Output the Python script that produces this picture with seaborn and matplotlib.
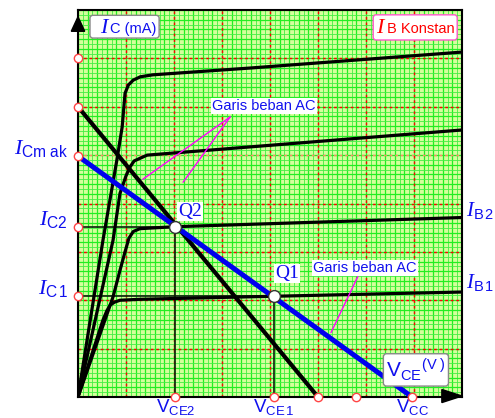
import numpy as np
import matplotlib
matplotlib.use("Agg")
import matplotlib.pyplot as plt
import seaborn as sns
from matplotlib.patches import FancyBboxPatch, Polygon

# characteristic curves (x = VCE grid units, y = IC grid units)
ib4_x = [0, 0.52, 0.81, 0.92, 0.98, 1.05, 1.15, 1.30, 1.56, 3.58, 8.0]
ib4_y = [0, 3.24, 4.90, 5.58, 6.28, 6.45, 6.55, 6.62, 6.66, 6.80, 7.13]
ib3_x = [0, 0.73, 0.875, 1.0, 1.08, 1.17, 1.44, 8.0]
ib3_y = [0, 3.24, 4.21, 4.57, 4.75, 4.88, 5.00, 5.52]
ib2_x = [0, 0.73, 0.875, 0.98, 1.06, 1.15, 1.29, 2.02, 8.0]
ib2_y = [0, 2.07, 2.62, 3.00, 3.28, 3.42, 3.48, 3.52, 3.71]
ib1_x = [0, 0.52, 0.60, 0.67, 0.76, 0.875, 1.29, 8.0]
ib1_y = [0, 1.59, 1.78, 1.90, 1.96, 2.00, 2.02, 2.17]

# load lines
dc_x = [0, 5.0]
dc_y = [6.0, 0]
ac_x = [0, 6.96]
ac_y = [4.98, 0]

# operating points
q_x = [2.02, 4.08]
q_y = [3.52, 2.08]
q_names = ["Q2", "Q1"]

# marked points on axes
y_marks = [7.0, 6.0, 4.98, 3.52, 2.08]
x_marks = [2.02, 4.08, 5.0, 5.8, 6.96]

sns.set_style("white")
plt.rcParams["font.family"] = ["Liberation Sans", "DejaVu Sans"]
plt.rcParams["mathtext.fontset"] = "custom"
plt.rcParams["mathtext.it"] = "Liberation Serif:italic"
plt.rcParams["mathtext.rm"] = "Liberation Sans"
plt.rcParams["mathtext.sf"] = "Liberation Sans"

fig = plt.figure(figsize=(4.95, 4.18), dpi=100)
ax = fig.add_axes([78 / 495, 21 / 418, 384 / 495, 387 / 418])
ax.set_facecolor("#d4ff9c")
ax.set_xlim(0, 8)
ax.set_ylim(0, 8)

# green millimetre grid
ax.set_xticks(np.arange(0, 8.01, 0.2), minor=True)
ax.set_yticks(np.arange(0, 8.01, 0.2), minor=True)
ax.grid(which="minor", color="#22ee22", lw=0.9, zorder=0)
ax.set_xticks(np.arange(0.1, 8, 0.2), minor=False)
ax.set_yticks(np.arange(0.1, 8, 0.2), minor=False)
ax.grid(which="major", color="#44ee44", lw=0.6, zorder=0)
ax.tick_params(which="both", length=0, labelbottom=False, labelleft=False)
ax.set_axisbelow(True)

for v in range(1, 8):
    ax.axvline(v, color="red", lw=1, ls=(0, (2, 2)), zorder=1)
    ax.axhline(v, color="#ff8866" if v == 5 else "red", lw=1, ls=(0, (2, 2)), zorder=1)

for s in ax.spines.values():
    s.set_color("black")
    s.set_linewidth(1.5)

# thin projection lines to the axes
for qx, qy in zip(q_x, q_y):
    ax.plot([0, qx], [qy, qy], color="#0a200a", lw=1.2, zorder=2)
    ax.plot([qx, qx], [0, qy], color="#0a200a", lw=1.2, zorder=2)

for cx, cy in [(ib1_x, ib1_y), (ib2_x, ib2_y), (ib3_x, ib3_y), (ib4_x, ib4_y)]:
    sns.lineplot(x=cx, y=cy, sort=False, estimator=None, color="black", lw=2.3,
                 ax=ax, zorder=3, solid_joinstyle="round", solid_capstyle="round")

sns.lineplot(x=dc_x, y=dc_y, sort=False, estimator=None, color="black", lw=3.0, ax=ax, zorder=4)
sns.lineplot(x=ac_x, y=ac_y, sort=False, estimator=None, color="#0000ee", lw=3.6, ax=ax, zorder=5)

# pointer lines for labels
ax.plot([3.17, 1.35], [5.79, 4.5], color="magenta", lw=1, zorder=6)
ax.plot([3.17, 2.19], [5.79, 4.44], color="magenta", lw=1, zorder=6)
ax.plot([5.83, 5.27], [2.49, 1.33], color="magenta", lw=1, zorder=6)

# axis arrows
ax.add_patch(Polygon([[0, 7.86], [-0.14, 7.56], [0.14, 7.56]], closed=True,
                     color="black", clip_on=False, zorder=8))
ax.add_patch(Polygon([[8.0, 0.02], [7.58, 0.155], [7.58, -0.115]], closed=True,
                     color="black", clip_on=False, zorder=8))

ax.plot([0] * len(y_marks), y_marks, "o", ms=6, mfc="white", mec="#ff4444", mew=1,
        clip_on=False, zorder=9)
ax.plot(x_marks, [0] * len(x_marks), "o", ms=6, mfc="white", mec="#ff4444", mew=1,
        clip_on=False, zorder=9)
ax.plot(q_x, q_y, "o", ms=8.5, mfc="white", mec="#333333", mew=1, zorder=9)

blue = "#1010ee"
for name, qx, qy, dx, dy in zip(q_names, q_x, q_y, [0.31, 0.27], [0.32, 0.48]):
    ax.text(qx + dx, qy + dy, name, family="Liberation Serif", fontsize=14, color=blue,
            ha="center", va="center", zorder=10,
            bbox=dict(boxstyle="square,pad=0.05", fc="white", ec="none"))

ax.text(3.875, 6.01, "Garis beban AC", fontsize=10.5, color=blue, ha="center", va="center",
        zorder=10, bbox=dict(boxstyle="square,pad=0.08", fc="white", ec="none"))
ax.text(5.98, 2.67, "Garis beban AC", fontsize=10.5, color=blue, ha="center", va="center",
        zorder=10, bbox=dict(boxstyle="square,pad=0.08", fc="white", ec="none"))

# boxed titles
ax.add_patch(FancyBboxPatch((0.25, 7.42), 1.44, 0.47, boxstyle="round,pad=0,rounding_size=0.06",
                            fc="white", ec="#888888", lw=1, zorder=10))
ax.text(0.46, 7.53, "I", family="Liberation Serif", style="italic", fontsize=16, color=blue, zorder=11)
ax.text(0.67, 7.53, "C (mA)", fontsize=10.5, color=blue, zorder=11)
ax.add_patch(FancyBboxPatch((6.15, 7.38), 1.75, 0.52, boxstyle="round,pad=0,rounding_size=0.06",
                            fc="white", ec="#ff55cc", lw=1, zorder=10))
ax.text(6.2, 7.52, "I", family="Liberation Serif", style="italic", fontsize=16, color="red", zorder=11)
ax.text(6.44, 7.52, "B Konstan", fontsize=10.5, color="red", zorder=11)

ax.text(7.04, 0.56, r"$\mathsf{V_{CE}{}^{(V\ )}}$", fontsize=15, color=blue, ha="center",
        va="center", zorder=10,
        bbox=dict(boxstyle="round,pad=0.14,rounding_size=0.15", fc="white", ec="#888888", lw=1))

# axis labels outside the frame
left_labels = [r"$\mathit{I}_{\mathsf{Cm\ ak}}$", r"$\mathit{I}_{\mathsf{C2}}$", r"$\mathit{I}_{\mathsf{C\,1}}$"]
for lab, yv in zip(left_labels, [4.98, 3.52, 2.08]):
    ax.text(-0.21, yv + 0.04, lab, fontsize=16, color=blue, ha="right", va="baseline", clip_on=False)

ax.text(8.08, 3.74, r"$\mathit{I}_{\mathsf{B\,2}}$", fontsize=15, color=blue, ha="left",
        va="baseline", clip_on=False)
ax.text(8.08, 2.26, r"$\mathit{I}_{\mathsf{B\,1}}$", fontsize=15, color=blue, ha="left",
        va="baseline", clip_on=False)

bottom_labels = [r"$\mathsf{V_{CE2}}$", r"$\mathsf{V_{CE\,1}}$", r"$\mathsf{V_{CC}}$"]
for lab, xv in zip(bottom_labels, [2.04, 4.08, 6.96]):
    ax.text(xv, -0.31, lab, fontsize=13.5, color=blue, ha="center", va="baseline", clip_on=False)

fig.savefig("out.png", dpi=100, facecolor="white")
